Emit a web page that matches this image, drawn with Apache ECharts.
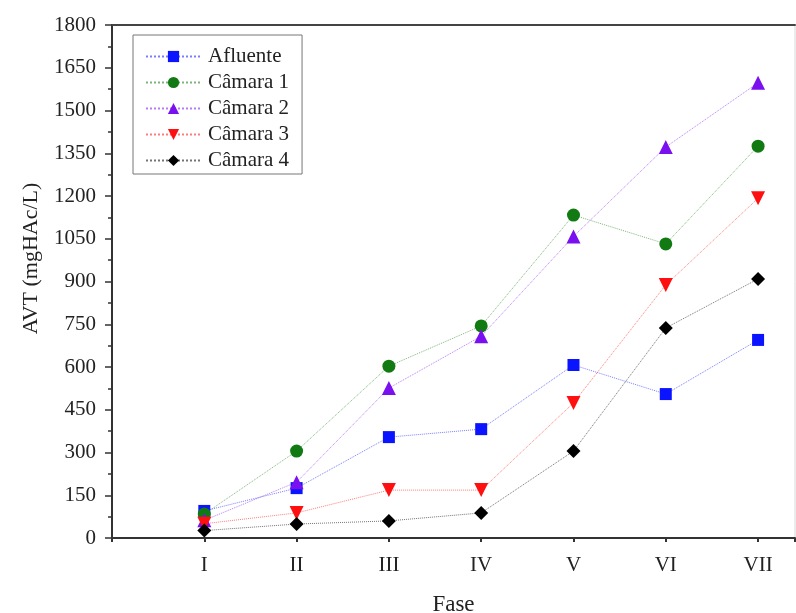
<!DOCTYPE html>
<html>
<head>
<meta charset="utf-8">
<script src="https://cdn.jsdelivr.net/npm/echarts@6/dist/echarts.min.js"></script>
<style>
  html, body { margin: 0; padding: 0; background: #fff; }
  #chart { width: 796px; height: 613px; }
</style>
</head>
<body>
<div id="chart"></div>
<script>
var fases = ['I', 'II', 'III', 'IV', 'V', 'VI', 'VII'];
var afluente = [95, 175, 354, 382, 607, 505, 695];
var camara1 = [84, 305, 603, 744, 1133, 1032, 1375];
var camara2 = [62, 196, 526, 708, 1058, 1372, 1597];
var camara3 = [50, 88, 168, 168, 474, 888, 1192];
var camara4 = [26, 49, 60, 88, 305, 737, 909];
var yTicks = [0, 150, 300, 450, 600, 750, 900, 1050, 1200, 1350, 1500, 1650, 1800];

var font = 'Liberation Serif';

function pts(vals) {
  // x position = fase index + 1
  return vals.map(function (v, i) { return [i + 1, v]; });
}

function serie(name, vals, color, symbol, size) {
  return {
    name: name,
    type: 'line',
    data: pts(vals),
    symbol: symbol,
    symbolSize: size,
    itemStyle: { color: color },
    lineStyle: { color: color, width: 1, type: 'dotted', opacity: 0.55 },
    emphasis: { disabled: true }
  };
}

var chart = echarts.init(document.getElementById('chart'));

var option = {
  backgroundColor: '#ffffff',
  animation: false,
  grid: {
    left: 112, right: 1, top: 25, bottom: 75,
    outerBoundsMode: 'none',
    containLabel: false,
    show: true, borderColor: '#d8d8d8', borderWidth: 1
  },
  legend: {
    orient: 'vertical',
    left: 133, top: 35,
    padding: [11, 13, 3, 12],
    itemGap: 5,
    itemWidth: 55,
    itemHeight: 14,
    borderColor: '#777',
    borderWidth: 1,
    textStyle: { fontFamily: font, fontSize: 21, color: '#222', padding: [0, 0, 0, 2] },
    data: ['Afluente', 'Câmara 1', 'Câmara 2', 'Câmara 3', 'Câmara 4']
  },
  xAxis: [{
    type: 'value',
    min: 0, max: 7.4, interval: 1,
    name: 'Fase',
    nameLocation: 'middle',
    nameGap: 55,
    nameTextStyle: { fontFamily: font, fontSize: 23, color: '#222' },
    axisLine: { lineStyle: { color: '#333', width: 2 } },
    axisTick: { show: true, length: 4, lineStyle: { color: '#333', width: 2 } },
    axisLabel: {
      fontFamily: font, fontSize: 21, color: '#222', margin: 17,
      formatter: function (v) { return fases[v - 1] || ''; }
    },
    splitLine: { show: false }
  }, {
    type: 'value',
    position: 'top',
    min: 0, max: 7.4,
    axisLine: { show: true, lineStyle: { color: '#444', width: 2 } },
    axisTick: { show: false },
    axisLabel: { show: false },
    splitLine: { show: false }
  }],
  yAxis: {
    type: 'value',
    min: 0, max: 1800, interval: 150,
    name: 'AVT (mgHAc/L)',
    nameLocation: 'middle',
    nameGap: 70,
    nameTextStyle: { fontFamily: font, fontSize: 22, color: '#222', padding: [0, 0, 0, 46] },
    axisLine: { show: true, lineStyle: { color: '#333', width: 2 } },
    axisTick: { show: true, inside: false, length: 7, lineStyle: { color: '#333', width: 1.5 } },
    minorTick: { show: true, splitNumber: 2, length: 4, lineStyle: { color: '#333', width: 1.5 } },
    axisLabel: {
      fontFamily: font, fontSize: 21, color: '#222', margin: 16,
      formatter: function (v) { return yTicks.indexOf(v) >= 0 ? String(v) : ''; }
    },
    splitLine: { show: false }
  },
  series: [
    serie('Afluente', afluente, '#0a14ff', 'rect', 12),
    serie('Câmara 1', camara1, '#127a12', 'circle', 13),
    serie('Câmara 2', camara2, '#7a10f0', 'triangle', 14),
    serie('Câmara 3', camara3, '#ff1010', 'path://M0,0 L10,0 L5,9 Z', 14),
    serie('Câmara 4', camara4, '#000000', 'diamond', 14)
  ]
};

chart.setOption(option);
</script>
</body>
</html>
